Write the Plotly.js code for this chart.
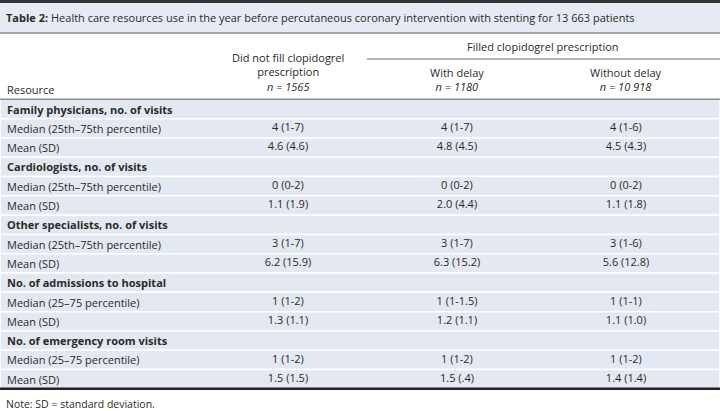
<!DOCTYPE html>
<html>
<head>
<meta charset="utf-8">
<script src="https://cdn.plot.ly/plotly-3.0.1.min.js"></script>
<style>html,body{margin:0;padding:0;background:#fff;}#chart{width:720px;height:411px;}</style>
</head>
<body>
<div id="chart"></div>
<script>
const titleText = "<b>Table 2:</b> Health care resources use in the year before percutaneous coronary intervention with stenting for 13 663 patients";
const noteText = "Note: SD = standard deviation.";
const spanHeader = "Filled clopidogrel prescription";
const resourceHeader = "Resource";
const columnHeaders = [
  "Did not fill clopidogrel<br>prescription<br><i>n = 1565</i>",
  "With delay<br><i>n = 1180</i>",
  "Without delay<br><i>n = 10 918</i>"
];
const resources = [
  "<b>Family physicians, no. of visits</b>",
  "Median (25th–75th percentile)",
  "Mean (SD)",
  "<b>Cardiologists, no. of visits</b>",
  "Median (25th–75th percentile)",
  "Mean (SD)",
  "<b>Other specialists, no. of visits</b>",
  "Median (25th–75th percentile)",
  "Mean (SD)",
  "<b>No. of admissions to hospital</b>",
  "Median (25–75 percentile)",
  "Mean (SD)",
  "<b>No. of emergency room visits</b>",
  "Median (25–75 percentile)",
  "Mean (SD)"
];
const didNotFill = ["", "4 (1-7)", "4.6 (4.6)", "", "0 (0-2)", "1.1 (1.9)", "", "3 (1-7)", "6.2 (15.9)", "", "1 (1-2)", "1.3 (1.1)", "", "1 (1-2)", "1.5 (1.5)"];
const withDelay = ["", "4 (1-7)", "4.8 (4.5)", "", "0 (0-2)", "2.0 (4.4)", "", "3 (1-7)", "6.3 (15.2)", "", "1 (1-1.5)", "1.2 (1.1)", "", "1 (1-2)", "1.5 (.4)"];
const withoutDelay = ["", "4 (1-6)", "4.5 (4.3)", "", "0 (0-2)", "1.1 (1.8)", "", "3 (1-6)", "5.6 (12.8)", "", "1 (1-1)", "1.1 (1.0)", "", "1 (1-2)", "1.4 (1.4)"];

const W = 720, H = 411;
const px = x => x / W;
const py = y => 1 - y / H;
const FONT = "Open Sans";
const TXT = "#2a2a2a";
const ROWFILL = "#e3e8f1";
const nRows = resources.length;
const rowIdx = resources.map((_, i) => i);

// axis mapping: column k center at 119 + 169*k px ; row i center at 109 + 19.3*i px
const colPx0 = 119, colPitch = 169, rowPx0 = 109, rowPitch = 19.3;
const xRange = [-colPx0 / colPitch, (W - colPx0) / colPitch];
const yRange = [(H - rowPx0) / rowPitch, -rowPx0 / rowPitch];

const valueCols = [didNotFill, withDelay, withoutDelay];
const traces = valueCols.map((vals, k) => ({
  type: "scatter",
  mode: "text",
  x: vals.map(() => k + 1),
  y: rowIdx,
  text: vals,
  textposition: "middle center",
  textfont: {family: FONT, size: 11, color: TXT},
  hoverinfo: "skip",
  showlegend: false,
  cliponaxis: false
}));

const shapes = [
  {type:"rect", xref:"paper", yref:"paper", x0:0, x1:1, y0:py(3), y1:py(0), fillcolor:"#333333", line:{width:0}},
  {type:"rect", xref:"paper", yref:"paper", x0:0, x1:1, y0:py(33), y1:py(3), fillcolor:"#e6eaf3", line:{width:0}},
  {type:"line", xref:"paper", yref:"paper", x0:0, x1:1, y0:py(33), y1:py(33), line:{color:"#8c8c8c", width:1.5}},
  {type:"line", xref:"paper", yref:"paper", x0:px(367), x1:1, y0:py(59), y1:py(59), line:{color:"#6a6a6a", width:1}}
];
rowIdx.forEach(i => {
  shapes.push({type:"rect", layer:"below", xref:"paper", yref:"y", x0:0, x1:1, y0:i-0.5, y1:i+0.5, fillcolor:ROWFILL, line:{color:"#ffffff", width:1.5}});
});
shapes.push({type:"line", xref:"paper", yref:"y", x0:0, x1:1, y0:-0.5, y1:-0.5, line:{color:"#8c8c8c", width:1.5}});
shapes.push({type:"line", xref:"paper", yref:"y", x0:0, x1:1, y0:nRows-0.5, y1:nRows-0.5, line:{color:"#222222", width:2.5}});

const annotations = [];
resources.forEach((r, i) => {
  annotations.push({text: r, xref:"paper", yref:"y", x: px(5), y: i, xanchor:"left", yanchor:"middle", showarrow:false, font:{family:FONT, size:11, color:TXT}});
});
annotations.push({text: resourceHeader, xref:"paper", yref:"paper", x: px(5), y: py(89), xanchor:"left", yanchor:"middle", showarrow:false, font:{family:FONT, size:11, color:TXT}});
columnHeaders.forEach((h, k) => {
  annotations.push({text: h, xref:"x", yref:"paper", x: k + 1, y: py(95.5), xanchor:"center", yanchor:"bottom", showarrow:false, font:{family:FONT, size:11, color:TXT}});
});
annotations.push({text: spanHeader, xref:"paper", yref:"paper", x: px(543), y: py(47), xanchor:"center", yanchor:"middle", showarrow:false, font:{family:FONT, size:11, color:TXT}});
annotations.push({text: noteText, xref:"paper", yref:"paper", x: px(4), y: py(404), xanchor:"left", yanchor:"middle", showarrow:false, font:{family:FONT, size:10.5, color:TXT}});

const layout = {
  width: W, height: H,
  margin: {l:0, r:0, t:0, b:0},
  paper_bgcolor: "#ffffff",
  plot_bgcolor: "#ffffff",
  xaxis: {range: xRange, visible: false, fixedrange: true},
  yaxis: {range: yRange, visible: false, fixedrange: true},
  title: {text: titleText, x: px(6), xanchor: "left", xref: "paper", y: py(18), yanchor: "middle", yref: "paper", font: {family: FONT, size: 11, color: TXT}},
  shapes: shapes,
  annotations: annotations
};

Plotly.newPlot("chart", traces, layout, {displayModeBar:false, staticPlot:true});
</script>
</body>
</html>
